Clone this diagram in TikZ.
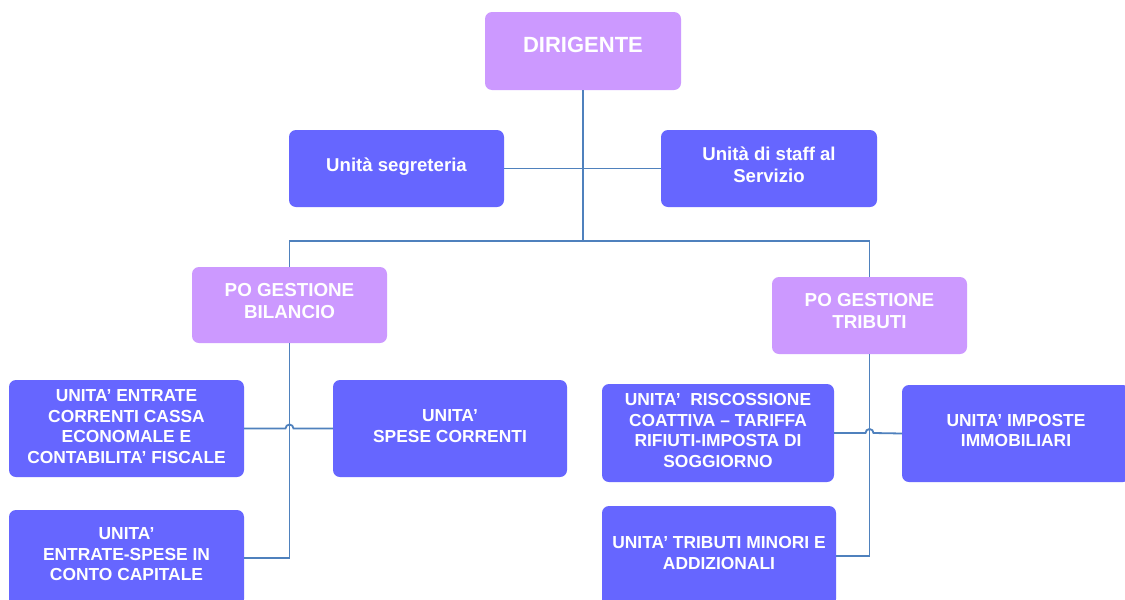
\documentclass[tikz,border=0pt]{standalone}
\usepackage{fontspec}
\setmainfont{Liberation Sans}
\usetikzlibrary{calc}
\definecolor{lilac}{RGB}{204,153,255}
\definecolor{unitblue}{RGB}{102,102,255}
\definecolor{linkblue}{RGB}{79,129,189}
% centred multi-line label, nudged up without changing its box size
\newcommand\liftedtext[2]{\raisebox{#1}[\height][\depth]{\begin{tabular}{@{}c@{}}#2\end{tabular}}}

\begin{document}
\begin{tikzpicture}[x=0.5pt,y=-0.5pt,
  box/.style 2 args={rectangle, rounded corners=3.5pt, draw=none,
    inner sep=0pt, outer sep=0pt, text=white,
    font=\bfseries\fontsize{8.7}{10.3}\selectfont,
    minimum width=#1*0.5pt, minimum height=#2*0.5pt},
  head/.style={fill=lilac},
  unit/.style={fill=unitblue},
  mixed/.style={font=\bfseries\fontsize{9.3}{11}\selectfont},
  po/.style={font=\bfseries\fontsize{9.4}{11}\selectfont},
  link/.style={draw=linkblue, line width=0.9pt}]

\fill[white] (0,0) rectangle (1125,600);
\useasboundingbox (0,0) rectangle (1125,600);

% top level
\node[box={196}{78}, head, font=\bfseries\fontsize{11}{13}\selectfont] (dir) at (583,51)
  {\liftedtext{1.7pt}{DIRIGENTE}};
\node[box={215}{77}, unit, mixed] (seg) at (396.5,168.5)
  {\liftedtext{0.75pt}{Unità segreteria}};
\node[box={216}{77}, unit, mixed] (staff) at (769,168.5)
  {\liftedtext{0.75pt}{Unità di staff al\\Servizio}};

% position heads
\node[box={195}{76}, head, po] (pob) at (289.5,305)
  {\liftedtext{1pt}{PO GESTIONE\\BILANCIO}};
\node[box={195}{77}, head, po] (pot) at (869.5,315.5)
  {\liftedtext{1.25pt}{PO GESTIONE\\TRIBUTI}};

% budget units
\node[box={235}{97}, unit] (ecc) at (126.5,428.5)
  {\liftedtext{0pt}{UNITA’ ENTRATE\\CORRENTI CASSA\\ECONOMALE E\\CONTABILITA’ FISCALE}};
\node[box={234}{97}, unit] (spc) at (450,428.5)
  {\liftedtext{0.25pt}{UNITA’\\SPESE CORRENTI}};
\node[box={235}{96}, unit] (esc) at (126.5,558)
  {\liftedtext{1pt}{UNITA’\\ENTRATE-SPESE IN\\CONTO CAPITALE}};

% tax units
\node[box={232}{98}, unit] (ris) at (718,433)
  {\liftedtext{0.25pt}{UNITA’\ \ RISCOSSIONE\\COATTIVA – TARIFFA\\RIFIUTI-IMPOSTA DI\\SOGGIORNO}};
\node[box={228}{97}, unit] (imm) at (1016,433.5)
  {\liftedtext{0.5pt}{UNITA’ IMPOSTE\\IMMOBILIARI}};
\node[box={234}{100}, unit] (trm) at (719,556)
  {\liftedtext{0.6pt}{UNITA’ TRIBUTI MINORI E\\ADDIZIONALI}};

% connectors
\coordinate (hub) at (dir.south |- 0,241);
\draw[link] (dir.south) -- (hub);
\draw[link] (seg.east) -- (staff.west);
\draw[link] (pob.north) |- (hub) -| (pot.north);
\draw[link] (pob.south) |- (esc.east);
\draw[link] (pot.south) |- (trm.east);

% side branches hop over the vertical lines
\coordinate (xl) at (pob.south |- ecc.east);
\draw[link] (ecc.east) -- ([xshift=-2pt]xl)
  arc[start angle=180, end angle=0, radius=2pt] -- (spc.west);
\coordinate (xr) at (pot.south |- ris.east);
\draw[link] (ris.east) -- ([xshift=-2pt]xr)
  arc[start angle=180, end angle=0, radius=2pt] -- (imm.west);

\end{tikzpicture}
\end{document}
